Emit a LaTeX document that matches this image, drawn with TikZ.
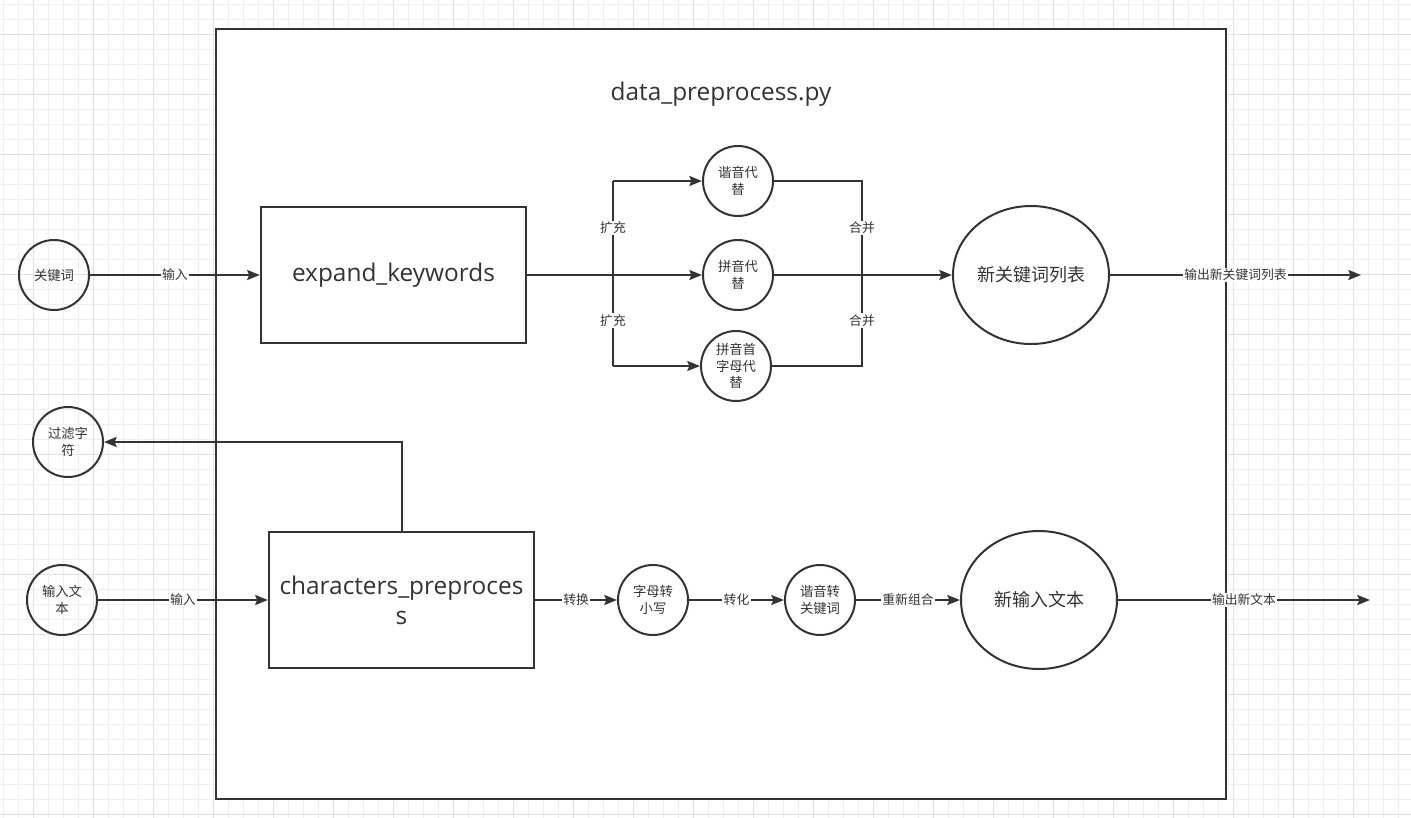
\documentclass[tikz,border=0pt]{standalone}
\usepackage{fontspec}
\setmainfont{Open Sans}
\newfontfamily\cjk{Noto Sans CJK SC}
\usetikzlibrary{arrows.meta,shapes.geometric}
\definecolor{ink}{HTML}{333333}
\definecolor{gridminor}{HTML}{F0F0F0}
\definecolor{gridmajor}{HTML}{E2E2E2}
\tikzset{
  stage/.style={draw=ink,line width=1.5pt,circle,minimum size=52.5pt,inner sep=0pt,align=center,text=ink,font=\cjk\fontsize{10}{12.5}\selectfont},
  bigstage/.style={draw=ink,line width=1.5pt,ellipse,minimum width=117pt,minimum height=103.5pt,inner sep=0pt,text=ink,font=\cjk\fontsize{13.5}{16}\selectfont},
  funcbox/.style={draw=ink,line width=1.5pt,rectangle,minimum width=199pt,minimum height=102.5pt,align=center,text=ink,font=\fontsize{18.3}{22.5}\selectfont},
  lbl/.style={fill=white,inner sep=1pt,text=ink,font=\cjk\fontsize{9.6}{11}\selectfont},
  flow/.style={draw=ink,line width=1.5pt,arrows={-Stealth[length=9.5pt,width=7.5pt,inset=1.5pt]}},
  wire/.style={draw=ink,line width=1.5pt}
}

\begin{document}
\begin{tikzpicture}[x=0.75pt,y=-0.75pt]
	\useasboundingbox (0,0) rectangle (1411,818);
	\fill[white] (0,0) rectangle (1411,818);
	% background grid
	\foreach \gx in {3,18,...,1411} \draw[gridminor,line width=0.75pt] (\gx,0) -- (\gx,818);
	\foreach \gy in {4,19,...,818} \draw[gridminor,line width=0.75pt] (0,\gy) -- (1411,\gy);
	\foreach \gx in {33,93,...,1411} \draw[gridmajor,line width=0.75pt] (\gx,0) -- (\gx,818);
	\foreach \gy in {34,94,...,818} \draw[gridmajor,line width=0.75pt] (0,\gy) -- (1411,\gy);

	\node[draw=ink,line width=1.5pt,fill=white,minimum width=757.5pt,minimum height=577.5pt,inner sep=0pt] (frame) at (721,414) {};
	\node[text=ink,font=\fontsize{18.3}{22}\selectfont] (title) at (721,94) {data\_preprocess.py};

	% keywords branch
	\node[stage] (kw) at (54,275) {关键词};
	\node[funcbox] (ek) at (393.5,275) {expand\_keywords};
	\node[stage] (xy) at (738,181) {谐音代\\替};
	\node[stage] (py) at (738,275) {拼音代\\替};
	\node[stage] (sz) at (736,366) {拼音首\\字母代\\替};
	\node[bigstage] (nkw) at (1031,275) {新关键词列表};
	\coordinate (kwout) at (1361,275);

	\coordinate (fork1) at (613,181);
	\coordinate (fork2) at (613,275);
	\coordinate (fork3) at (613,366);
	\coordinate (join1) at (862,181);
	\coordinate (join2) at (862,275);
	\coordinate (join3) at (862,366);

	\draw[flow] (kw) -- node[lbl] {输入} (ek);
	\draw[flow] (ek) -- (py);
	\draw[wire] (fork1) -- node[lbl] {扩充} (fork2) -- node[lbl] {扩充} (fork3);
	\draw[flow] (fork1) -- (xy);
	\draw[flow] (fork3) -- (sz);
	\draw[wire] (xy) -- (join1) -- node[lbl] {合并} (join2) -- node[lbl] {合并} (join3) -- (sz);
	\draw[flow] (py) -- (nkw);
	\draw[flow] (nkw) -- node[lbl] {输出新关键词列表} (kwout);

	% text branch
	\node[stage] (gl) at (68,442) {过滤字\\符};
	\node[stage] (txt) at (62,600) {输入文\\本};
	\node[funcbox] (cp) at (401.5,600) {characters\_preproces\\s};
	\node[stage] (lower) at (653,600) {字母转\\小写};
	\node[stage] (hy) at (820,600) {谐音转\\关键词};
	\node[bigstage] (ntxt) at (1039,600) {新输入文本};
	\coordinate (txtout) at (1370,600);

	\draw[flow] (cp.north) |- (gl);
	\draw[flow] (txt) -- node[lbl] {输入} (cp);
	\draw[flow] (cp) -- node[lbl] {转换} (lower);
	\draw[flow] (lower) -- node[lbl] {转化} (hy);
	\draw[flow] (hy) -- node[lbl] {重新组合} (ntxt);
	\draw[flow] (ntxt) -- node[lbl] {输出新文本} (txtout);
\end{tikzpicture}
\end{document}
